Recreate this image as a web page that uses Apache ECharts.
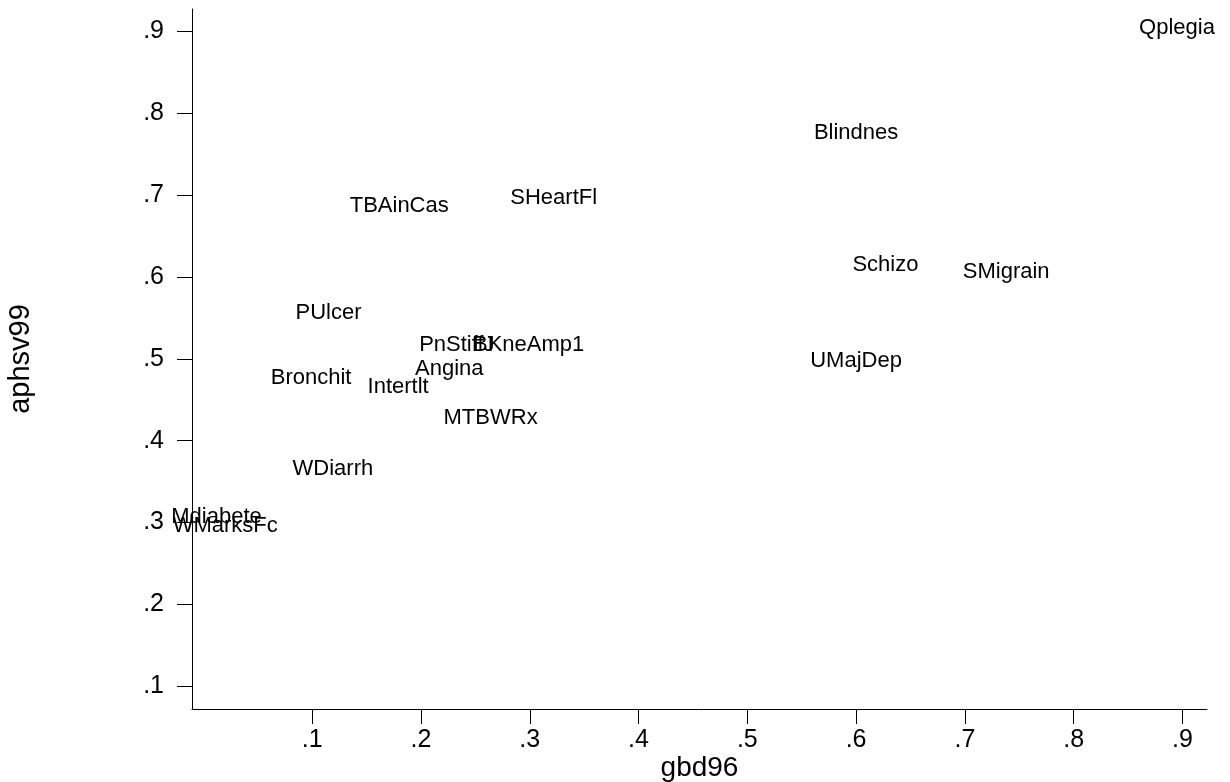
<!DOCTYPE html>
<html>
<head>
<meta charset="utf-8">
<script src="https://cdn.jsdelivr.net/npm/echarts@6/dist/echarts.min.js"></script>
<style>
  html, body { margin: 0; padding: 0; background: #ffffff; }
  #chart { width: 1230px; height: 782px; }
</style>
</head>
<body>
<div id="chart"></div>
<script>
// Condition labels and their weights under the two valuation schemes
const conditions = ['Qplegia', 'Blindnes', 'Schizo', 'SMigrain', 'UMajDep', 'SHeartFl', 'TBAinCas',
  'PUlcer', 'PnStiffJ', 'BKneAmp1', 'Angina', 'Bronchit', 'Intertlt', 'MTBWRx', 'WDiarrh',
  'Mdiabete', 'WMarksFc'];
const gbd96 = [0.895, 0.600, 0.627, 0.738, 0.600, 0.322, 0.180,
  0.115, 0.233, 0.299, 0.226, 0.099, 0.179, 0.264, 0.119,
  0.012, 0.020];
const aphsv99 = [0.904, 0.776, 0.615, 0.606, 0.497, 0.696, 0.687,
  0.556, 0.517, 0.517, 0.487, 0.476, 0.466, 0.428, 0.366,
  0.307, 0.296];

// Axis ticks
const tickValues = [0.1, 0.2, 0.3, 0.4, 0.5, 0.6, 0.7, 0.8, 0.9];
const tickLabels = ['.1', '.2', '.3', '.4', '.5', '.6', '.7', '.8', '.9'];

const fontFamily = '"Liberation Sans", Arial, Helvetica, sans-serif';

function tickText(v) {
  const i = tickValues.findIndex(t => Math.abs(t - v) < 1e-9);
  return i >= 0 ? tickLabels[i] : '';
}

const points = conditions.map((n, i) => ({ name: n, value: [gbd96[i], aphsv99[i]] }));

const axisCommon = {
  type: 'value',
  nameLocation: 'middle',
  nameMoveOverlap: false,
  nameTextStyle: { color: '#000', fontSize: 29, fontFamily: fontFamily },
  axisLine: { show: true, onZero: false, lineStyle: { color: '#000', width: 1 } },
  axisTick: { show: true, inside: false, length: 15, customValues: tickValues,
    lineStyle: { color: '#000', width: 1 } },
  axisLabel: { color: '#000', fontSize: 25, fontFamily: fontFamily, customValues: tickValues,
    formatter: tickText },
  splitLine: { show: false }
};

const chart = echarts.init(document.getElementById('chart'), null, { renderer: 'canvas' });
chart.setOption({
  backgroundColor: '#ffffff',
  animation: false,
  grid: { left: 192, right: 23, top: 9, bottom: 73, containLabel: false, outerBoundsMode: 'none' },
  xAxis: Object.assign({}, axisCommon, {
    name: 'gbd96', nameGap: 45, min: -0.0105, max: 0.9226,
    nameTextStyle: { color: '#000', fontSize: 28, fontFamily: fontFamily },
    axisLabel: Object.assign({}, axisCommon.axisLabel, { margin: 19 })
  }),
  yAxis: Object.assign({}, axisCommon, {
    name: 'aphsv99', nameGap: 157, min: 0.0724, max: 0.927,
    axisLabel: Object.assign({}, axisCommon.axisLabel, { margin: 28 })
  }),
  series: [{
    type: 'scatter',
    data: points,
    symbol: 'circle',
    symbolSize: 1,
    itemStyle: { color: 'rgba(0,0,0,0)', opacity: 1 },
    label: {
      show: true,
      position: 'inside',
      offset: [0, 1],
      formatter: p => p.name,
      color: '#000',
      textBorderWidth: 0,
      fontSize: 22,
      fontFamily: fontFamily
    },
    labelLayout: { hideOverlap: false },
    emphasis: { disabled: true }
  }]
});
</script>
</body>
</html>
